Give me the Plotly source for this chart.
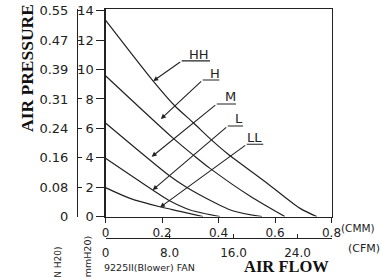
import plotly.graph_objects as go

# ---- data ----
series_names = ["HH", "H", "M", "L", "LL"]

hh_flow = [0, 0.169, 0.246, 0.311, 0.376, 0.431, 0.571, 0.689, 0.748]
hh_pres = [13.37, 9.22, 7.52, 6.38, 5.20, 4.29, 2.29, 0.56, 0]

h_flow = [0, 0.240, 0.311, 0.370, 0.511, 0.635]
h_pres = [9.58, 5.32, 4.18, 3.28, 1.40, 0]

m_flow = [0, 0.2265, 0.2867, 0.3345, 0.45, 0.554]
m_pres = [6.37, 2.78, 1.99, 1.47, 0.40, 0]

l_flow = [0, 0.167, 0.222, 0.30, 0.405]
l_pres = [3.97, 1.81, 1.13, 0.45, 0]

ll_flow = [0, 0.087, 0.192, 0.264, 0.345]
ll_pres = [1.97, 1.24, 0.67, 0.36, 0]

mm_ticks = [0, 2, 4, 6, 8, 10, 12, 14]
inch_labels = ["0", "0.08", "0.16", "0.24", "0.31", "0.39", "0.47", "0.55"]
cmm_ticks = [0, 0.2, 0.4, 0.6, 0.8]
cmm_labels = ["0", "0.2", "0.4", "0.6", "0.8"]
cfm_ticks = [0, 8, 16, 24]
cfm_labels = ["0", "8.0", "16.0", "24.0"]
CMM_TO_CFM = 35.3147

# label leader positions (tip x, tip y, tail x, tail y, underline end x, text x, text y)
label_pos = [
    (0.169, 9.22, 0.2697, 10.59, 0.370, 0.331, 11.02),
    (0.196, 6.64, 0.344, 9.29, 0.403, 0.386, 9.72),
    (0.1635, 4.07, 0.394, 7.66, 0.462, 0.442, 8.14),
    (0.167, 1.81, 0.4326, 6.16, 0.487, 0.474, 6.67),
    (0.193, 0.63, 0.50, 4.92, 0.5586, 0.529, 5.37),
]

# ---- figure ----
W, H = 382, 277
LINE = "#222222"
FONT = "DejaVu Sans"
SERIF = "Liberation Serif"

x_dom = [105.5 / W, 331.5 / W]
y_dom = [1 - 216.6 / H, 1 - 9 / H]
y_max = 14.12

fig = go.Figure()
for flow, pres in [(hh_flow, hh_pres), (h_flow, h_pres), (m_flow, m_pres),
                   (l_flow, l_pres), (ll_flow, ll_pres)]:
    fig.add_trace(go.Scatter(x=flow, y=pres, mode="lines",
                             line=dict(color=LINE, width=1.2, shape="spline", smoothing=0.8),
                             showlegend=False, hoverinfo="skip"))

# invisible traces to activate secondary axes
fig.add_trace(go.Scatter(x=[0], y=[0], xaxis="x2", yaxis="y", mode="markers",
                         marker=dict(opacity=0), showlegend=False, hoverinfo="skip"))
fig.add_trace(go.Scatter(x=[0], y=[0], xaxis="x", yaxis="y2", mode="markers",
                         marker=dict(opacity=0), showlegend=False, hoverinfo="skip"))

annotations = []
shapes = []
for name, (tx, ty, ax, ay, ux, lx, ly) in zip(series_names, label_pos):
    annotations.append(dict(x=tx, y=ty, ax=ax, ay=ay, xref="x", yref="y",
                            axref="x", ayref="y", text="", showarrow=True,
                            arrowhead=2, arrowsize=0.9, arrowwidth=1.1,
                            arrowcolor=LINE, standoff=0, startstandoff=0))
    shapes.append(dict(type="line", xref="x", yref="y", x0=ax, y0=ay, x1=ux, y1=ay,
                       line=dict(color=LINE, width=1.1)))
    annotations.append(dict(x=lx, y=ly, xref="x", yref="y", text=name, showarrow=False,
                            xanchor="center", yanchor="middle",
                            font=dict(family=FONT, size=13, color=LINE)))

def px_x(p):
    return p / W

def px_y(p):
    return 1 - p / H

def note(x, y, text, size, family=FONT, angle=0, xanchor="center", color=LINE):
    return dict(x=px_x(x), y=px_y(y), xref="paper", yref="paper", text=text,
                textangle=angle, showarrow=False, xanchor=xanchor, yanchor="middle",
                font=dict(family=family, size=size, color=color))

annotations += [
    note(27, 68, "<b>AIR PRESSURE</b>", 17.5, SERIF, -90, color="#111"),
    note(286.5, 266.5, "<b>AIR FLOW</b>", 16.5, SERIF, color="#111"),
    note(102, 267, "9225II(Blower) FAN", 9.5, xanchor="left"),
    note(339, 228, "(CMM)", 10.5, xanchor="left"),
    note(346, 248, "(CFM)", 11, xanchor="left"),
    note(58, 265, "(IN H20)", 9, angle=-90),
    note(87, 259, "(mmH20)", 9.5, angle=-90),
]

fig.update_layout(
    width=W, height=H,
    margin=dict(l=0, r=0, t=0, b=0, pad=0),
    paper_bgcolor="white", plot_bgcolor="white",
    showlegend=False,
    xaxis=dict(domain=x_dom, range=[0, 0.8], showline=True, mirror=True,
               linecolor=LINE, linewidth=1.2, ticks="outside", ticklen=5,
               tickcolor=LINE, tickvals=cmm_ticks, ticktext=cmm_labels,
               showgrid=False, zeroline=False, automargin=False,
               tickfont=dict(family=FONT, size=12, color=LINE)),
    yaxis=dict(domain=y_dom, range=[0, y_max], showline=True, mirror=True,
               linecolor=LINE, linewidth=1.2, ticks="outside", ticklen=8,
               tickcolor=LINE, tickvals=mm_ticks, ticktext=[str(v) for v in mm_ticks],
               showgrid=False, zeroline=False, automargin=False,
               tickfont=dict(family=FONT, size=13, color=LINE)),
    xaxis2=dict(overlaying="x", anchor="free", position=1 - 237.7 / H, domain=x_dom,
                side="bottom", range=[0, 0.8 * CMM_TO_CFM], showline=True,
                linecolor=LINE, linewidth=1.2, ticks="inside", ticklen=4,
                tickcolor=LINE, tickvals=cfm_ticks + [0.8 * CMM_TO_CFM],
                ticktext=cfm_labels + [""], showgrid=False, zeroline=False,
                ticklabelstandoff=4, automargin=False,
                tickfont=dict(family=FONT, size=12, color=LINE)),
    yaxis2=dict(overlaying="y", anchor="free", position=77 / W, side="left",
                range=[0, y_max], showline=True, linecolor=LINE, linewidth=1.2,
                ticks="inside", ticklen=4, tickcolor=LINE, tickvals=mm_ticks,
                ticktext=inch_labels, showgrid=False, zeroline=False,
                ticklabelstandoff=6, automargin=False,
                tickfont=dict(family=FONT, size=13, color=LINE)),
    annotations=annotations,
    shapes=shapes,
)

fig.write_html("out.html", config={"displayModeBar": False, "staticPlot": True},
               post_script="document.body.style.margin='0';")
